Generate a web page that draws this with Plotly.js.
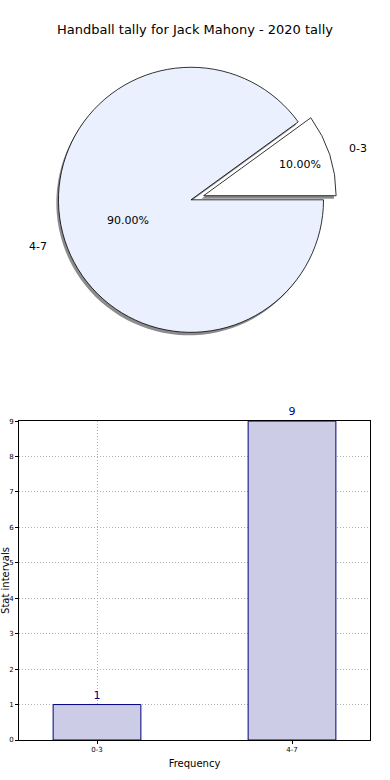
<!DOCTYPE html>
<html>
<head>
<meta charset="utf-8">
<script src="https://cdn.plot.ly/plotly-3.0.1.min.js"></script>
<style>html,body{margin:0;padding:0;background:#fff;}#chart{width:390px;height:780px;}</style>
</head>
<body>
<div id="chart"></div>
<script>
const categories = ["0-3", "4-7"];
const counts = [1, 9];
const pieColors = ["#ffffff", "#eaf0fd"];
const pullAmounts = [0.1, 0];
const titleText = "Handball tally for Jack Mahony - 2020 tally";

// first slice starts at 3 o'clock and runs counterclockwise (matplotlib default)
const total = counts.reduce((a, b) => a + b, 0);
const startRotation = 90 - 360 * counts[0] / total;

const pieDomain = {x: [0.03, 0.95], y: [0.533, 0.927]};
const shadowDomain = {x: [0.024, 0.944], y: [0.529, 0.923]};
const labelDomain = {x: [0.0, 0.98], y: [0.51, 0.95]};

const traces = [
  {
    type: "pie", labels: categories, values: counts, sort: false,
    direction: "counterclockwise", rotation: startRotation, pull: pullAmounts,
    marker: {colors: ["#8c8c8c", "#8c8c8c"], line: {width: 0}},
    textinfo: "none", hoverinfo: "skip", showlegend: false,
    domain: shadowDomain
  },
  {
    type: "pie", labels: categories, values: counts, sort: false,
    direction: "counterclockwise", rotation: startRotation, pull: pullAmounts,
    marker: {colors: pieColors, line: {color: "#000000", width: 0.8}},
    texttemplate: "%{percent:.2%}", textposition: "inside",
    insidetextorientation: "horizontal",
    textfont: {family: "DejaVu Sans", size: 11, color: "#000"},
    showlegend: false, domain: pieDomain
  },
  {
    type: "pie", labels: categories, values: counts, sort: false,
    direction: "counterclockwise", rotation: startRotation, pull: pullAmounts,
    marker: {colors: ["rgba(0,0,0,0)", "rgba(0,0,0,0)"], line: {width: 0}},
    texttemplate: "%{label}", textposition: "outside",
    outsidetextfont: {family: "DejaVu Sans", size: 11, color: "#000"},
    hoverinfo: "skip", showlegend: false, domain: labelDomain
  },
  {
    type: "bar", x: categories, y: counts, width: 0.45,
    marker: {color: "#ccccE6", line: {color: "#000080", width: 1}},
    text: counts.map(String), textposition: "outside",
    textfont: {family: "DejaVu Sans", size: 11, color: "#000080"},
    cliponaxis: false, showlegend: false, xaxis: "x", yaxis: "y"
  }
];

const layout = {
  width: 390, height: 780,
  margin: {l: 19, r: 20, t: 0, b: 40},
  paper_bgcolor: "#fff", plot_bgcolor: "#fff",
  font: {family: "DejaVu Sans", color: "#000"},
  title: {text: titleText, x: 0.5, xanchor: "center", y: 0.962, yanchor: "middle",
          font: {family: "DejaVu Sans", size: 13, color: "#000"}},
  xaxis: {
    domain: [0, 1], range: [-0.4, 1.4], type: "category",
    showline: true, linecolor: "#000", linewidth: 1, mirror: true,
    showgrid: true, gridcolor: "#b0b0b0", griddash: "1px,2px", gridwidth: 1,
    ticks: "outside", ticklen: 3, tickcolor: "#000",
    tickfont: {family: "DejaVu Sans", size: 7, color: "#000"},
    title: {text: "Frequency", font: {family: "DejaVu Sans", size: 10, color: "#000"}, standoff: 6},
    zeroline: false
  },
  yaxis: {
    domain: [0, 0.431], range: [0, 9], dtick: 1,
    showline: true, linecolor: "#000", linewidth: 1, mirror: true,
    showgrid: true, gridcolor: "#b0b0b0", griddash: "1px,2px", gridwidth: 1,
    ticks: "outside", ticklen: 3, tickcolor: "#000",
    tickfont: {family: "DejaVu Sans", size: 7, color: "#000"},
    title: {text: "Stat intervals", font: {family: "DejaVu Sans", size: 10, color: "#000"}, standoff: 4},
    zeroline: false
  },
  bargap: 0
};

Plotly.newPlot("chart", traces, layout, {staticPlot: true, displayModeBar: false});
</script>
</body>
</html>
